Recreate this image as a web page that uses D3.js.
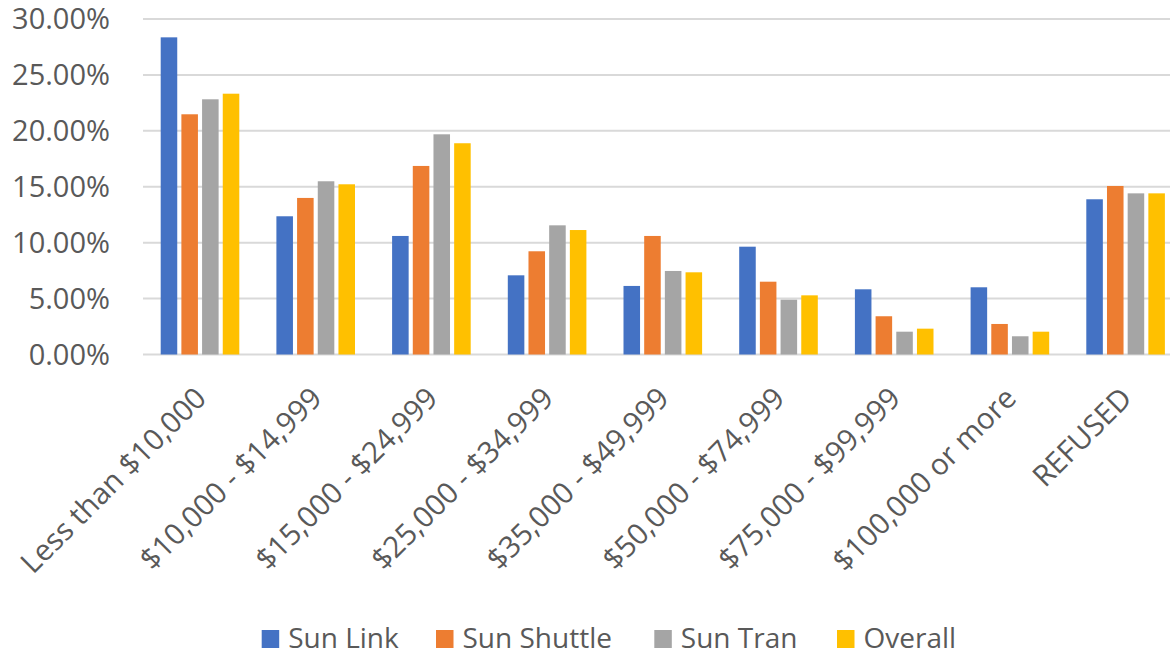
<!DOCTYPE html>
<html>
<head>
<meta charset="utf-8">
<script src="https://cdn.jsdelivr.net/npm/d3@7"></script>
<style>
  html, body { margin: 0; padding: 0; background: #fff; }
  svg { display: block; }
  text { font-family: "Open Sans", "Noto Sans", sans-serif; fill: #595959; }
</style>
</head>
<body>
<svg id="chart" width="1170" height="655"></svg>
<script>
// Household income brackets
const categories = [
  "Less than $10,000", "$10,000 - $14,999", "$15,000 - $24,999",
  "$25,000 - $34,999", "$35,000 - $49,999", "$50,000 - $74,999",
  "$75,000 - $99,999", "$100,000 or more", "REFUSED"
];
const seriesNames = ["Sun Link", "Sun Shuttle", "Sun Tran", "Overall"];
const seriesColors = ["#4472C4", "#ED7D31", "#A5A5A5", "#FFC000"];

// Share of riders per bracket, in percent
const sunLink    = [28.36, 12.36, 10.60, 7.08, 6.13, 9.64, 5.83, 6.01, 13.88];
const sunShuttle = [21.48, 14.00, 16.86, 9.23, 10.60, 6.51, 3.42, 2.73, 15.07];
const sunTran    = [22.82, 15.49, 19.69, 11.55, 7.47, 4.90, 2.04, 1.63, 14.41];
const overall    = [23.32, 15.22, 18.89, 11.13, 7.35, 5.29, 2.31, 2.04, 14.41];
const seriesValues = [sunLink, sunShuttle, sunTran, overall];

const yTicks = [0, 5, 10, 15, 20, 25, 30];

const svg = d3.select("#chart");

const plot = { left: 142.15, right: 1183.45, top: 19, bottom: 354.5 };

const y = d3.scaleLinear().domain([0, 30]).range([plot.bottom, plot.top]);
const x0 = d3.scaleBand().domain(categories).range([plot.left, plot.right]).padding(0);
const groupW = 78.6;
const x1 = d3.scaleBand().domain(seriesNames)
  .range([(x0.bandwidth() - groupW) / 2, (x0.bandwidth() + groupW) / 2])
  .paddingInner(0.2).paddingOuter(0);

// Horizontal gridlines
svg.append("g").selectAll("line").data(yTicks).join("line")
  .attr("x1", 143).attr("x2", 1170)
  .attr("y1", d => y(d)).attr("y2", d => y(d))
  .attr("stroke", "#D9D9D9").attr("stroke-width", 2);

// Y axis labels
svg.append("g").selectAll("text").data(yTicks).join("text")
  .attr("x", 110).attr("y", d => y(d))
  .attr("dy", "0.36em")
  .attr("text-anchor", "end")
  .style("font-size", "29px")
  .text(d => d3.format(".2f")(d) + "%");

// Bars
const groups = svg.append("g").selectAll("g").data(categories).join("g")
  .attr("transform", c => `translate(${x0(c)},0)`);

groups.selectAll("rect")
  .data((c, i) => seriesNames.map((s, k) => ({ s, k, v: seriesValues[k][i] })))
  .join("rect")
  .attr("x", d => x1(d.s))
  .attr("width", x1.bandwidth())
  .attr("y", d => y(d.v))
  .attr("height", d => y(0) - y(d.v))
  .attr("fill", d => seriesColors[d.k]);

// Rotated category labels
svg.append("g").selectAll("text").data(categories).join("text")
  .attr("transform", c => `translate(${x0(c) + x0.bandwidth() / 2 + 8},400) rotate(-45)`)
  .attr("text-anchor", "end")
  .style("font-size", "29.5px")
  .text(c => c);

// Legend
const legendX = [261.7, 436, 654.3, 837];
const legend = svg.append("g").selectAll("g").data(seriesNames).join("g")
  .attr("transform", (s, i) => `translate(${legendX[i]},630)`);
legend.append("rect")
  .attr("width", 17.5).attr("height", 18)
  .attr("fill", (s, i) => seriesColors[i]);
legend.append("text")
  .attr("x", 26.5).attr("y", 17.5)
  .style("font-size", "28px")
  .text(s => s);
</script>
</body>
</html>
